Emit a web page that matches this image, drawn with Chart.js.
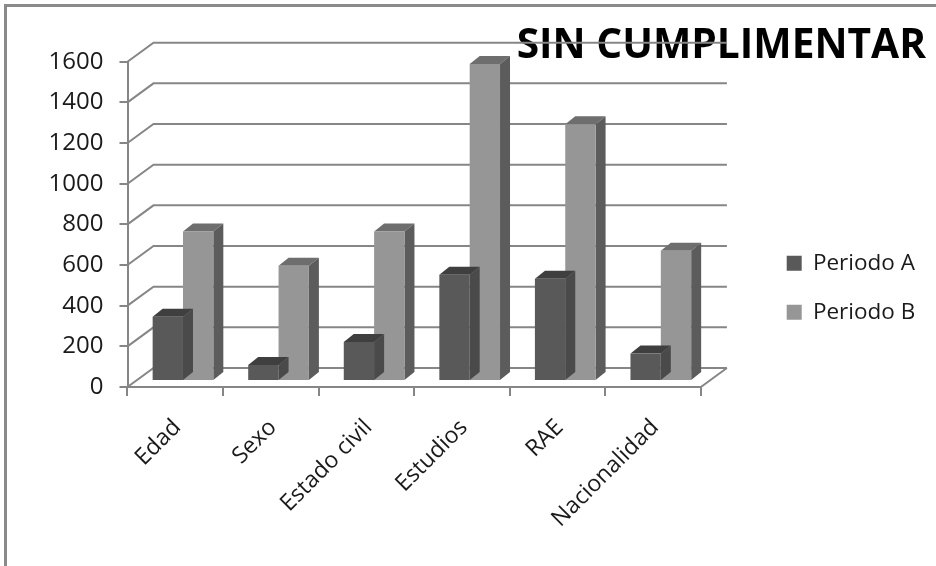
<!DOCTYPE html>
<html>
<head>
<meta charset="utf-8">
<style>
  html, body { margin: 0; padding: 0; background: #fff; overflow: hidden; }
  #chartBox { position: relative; width: 936px; height: 566px; }
  #frame { position: absolute; left: 4px; top: 4px; width: 950px; height: 580px; box-sizing: border-box; border: 3px solid #8a8a8a; }
  canvas { position: absolute; left: 0; top: 0; }
</style>
<script src="https://cdn.jsdelivr.net/npm/chart.js@4/dist/chart.umd.js"></script>
</head>
<body>
<div id="chartBox">
  <div id="frame"></div>
  <canvas id="sinCumplimentarChart" width="936" height="566"></canvas>
</div>
<script>
const categorias = ['Edad', 'Sexo', 'Estado civil', 'Estudios', 'RAE', 'Nacionalidad'];
const periodoA = [316, 79, 192, 523, 503, 135];
const periodoB = [735, 567, 735, 1559, 1263, 641];

const fontFamily = '"Open Sans", sans-serif';
const lineColor = '#868686';

// fake 3D: wall lines behind the bars, sides on every bar
const depth3d = {
    id: 'depth3d',
    afterLayout: (chart) => {
        // labels.padding also sets the gap between the entries, so put the legend back in place
        chart.legend.left = 760.2;
    },
    beforeDatasetsDraw: (chart) => {
        const { ctx, chartArea, scales } = chart;
        ctx.save();
        ctx.strokeStyle = lineColor;
        ctx.lineWidth = 2;
        scales.y.ticks.forEach((tick) => {
            const y = scales.y.getPixelForValue(tick.value);
            ctx.beginPath();
            ctx.moveTo(chartArea.left, y);
            ctx.lineTo(chartArea.left + 26, y - 19);
            ctx.lineTo(chartArea.right + 26, y - 19);
            ctx.stroke();
        });
        const y0 = scales.y.getPixelForValue(0);
        ctx.beginPath();
        ctx.moveTo(chartArea.right, y0);
        ctx.lineTo(chartArea.right + 26, y0 - 19);
        ctx.stroke();
        ctx.restore();
        // the bars stand in the middle of the floor
        ctx.save();
        ctx.translate(7.7, -6);
    },
    beforeDatasetDraw: (chart, args) => {
        const { ctx } = chart;
        const colors = args.index === 0 ? ['#3f3f3f', '#4a4a4a'] : ['#6e6e6e', '#5c5c5c'];
        args.meta.data.forEach((bar) => {
            const left = bar.x - bar.width / 2;
            const right = bar.x + bar.width / 2;
            ctx.fillStyle = colors[0];
            ctx.beginPath();
            ctx.moveTo(left, bar.y);
            ctx.lineTo(left + 10, bar.y - 8);
            ctx.lineTo(right + 10, bar.y - 8);
            ctx.lineTo(right, bar.y);
            ctx.fill();
            ctx.fillStyle = colors[1];
            ctx.beginPath();
            ctx.moveTo(right, bar.y);
            ctx.lineTo(right + 10, bar.y - 8);
            ctx.lineTo(right + 10, bar.base - 8);
            ctx.lineTo(right, bar.base);
            ctx.fill();
        });
    },
    afterDatasetsDraw: (chart) => {
        chart.ctx.restore();
    }
};

new Chart(document.getElementById('sinCumplimentarChart'), {
    type: 'bar',
    data: {
        labels: categorias,
        datasets: [
            { label: 'Periodo A', data: periodoA, backgroundColor: '#595959', clip: false },
            { label: 'Periodo B', data: periodoB, backgroundColor: '#969696', clip: false }
        ]
    },
    plugins: [depth3d],
    options: {
        responsive: false,
        animation: false,
        categoryPercentage: 0.635,
        barPercentage: 1,
        layout: { padding: { left: 8, top: 31.5, right: 10, bottom: 22 } },
        plugins: {
            tooltip: { enabled: false },
            title: {
                display: true,
                text: 'SIN CUMPLIMENTAR',
                align: 'end',
                color: '#000',
                padding: 0,
                font: { family: fontFamily, size: 40.7, weight: 'bold', lineHeight: 0.742 }
            },
            legend: {
                position: 'right',
                labels: {
                    boxWidth: 15,
                    boxHeight: 15,
                    padding: 26.5,
                    color: '#1a1a1a',
                    font: { family: fontFamily, size: 22.5 }
                }
            }
        },
        scales: {
            x: {
                grid: { drawOnChartArea: false, tickLength: 9, color: lineColor, lineWidth: 2 },
                border: { color: lineColor, width: 2 },
                ticks: {
                    color: '#1a1a1a',
                    minRotation: 45,
                    maxRotation: 45,
                    padding: 18,
                    labelOffset: 2,
                    font: { family: fontFamily, size: 23 }
                },
                afterFit: (scale) => { scale.height = 157; }
            },
            y: {
                min: 0,
                max: 1600,
                grid: { drawOnChartArea: false, tickLength: 8, color: lineColor, lineWidth: 2 },
                border: { color: lineColor, width: 2 },
                ticks: {
                    stepSize: 200,
                    padding: 16,
                    color: '#1a1a1a',
                    font: { family: fontFamily, size: 24 },
                    callback: (value) => String(value)
                },
                afterFit: (scale) => { scale.width = 119.5; }
            },
            spacer: {
                position: 'right',
                grid: { display: false },
                border: { display: false },
                ticks: { display: false },
                afterFit: (scale) => { scale.width = 72.1; }
            }
        }
    }
});
</script>
</body>
</html>
